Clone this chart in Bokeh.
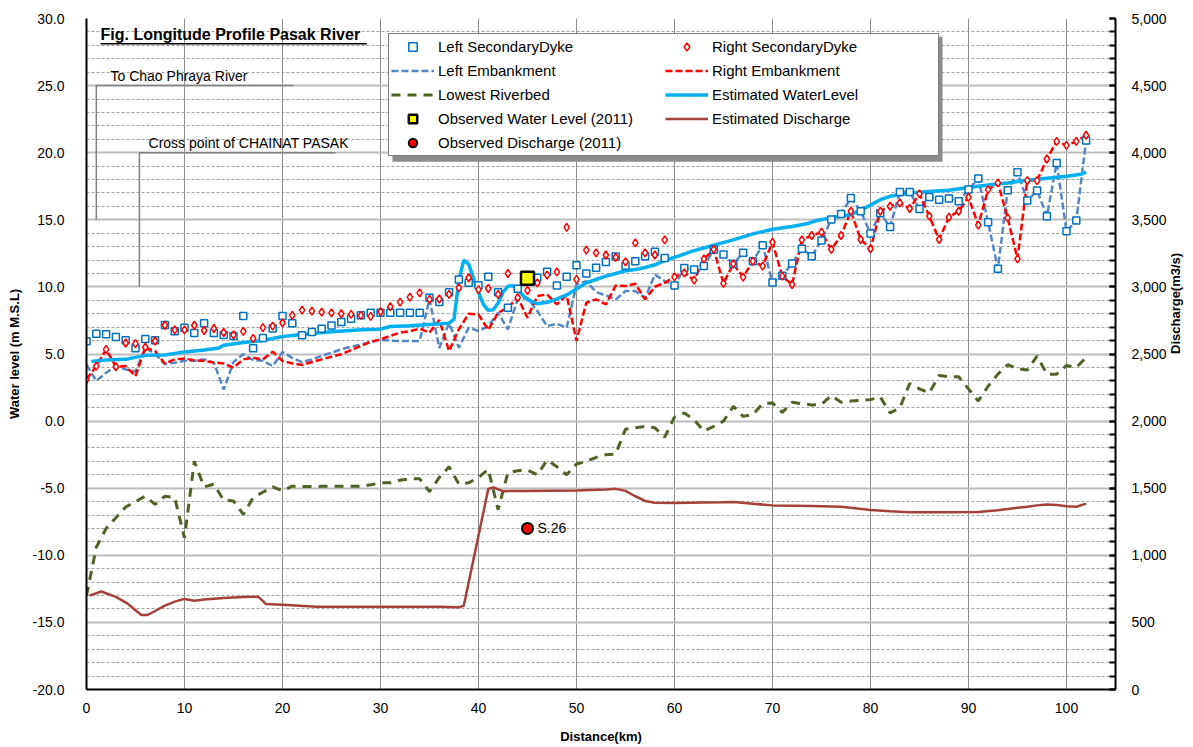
import math
from bokeh.plotting import figure
from bokeh.models import (Range1d, LinearAxis, SingleIntervalTicker, NumeralTickFormatter,
                          Legend, LegendItem, Label, BoxAnnotation)
from bokeh.embed import file_html
from bokeh.resources import INLINE

FONT = "Liberation Sans"

# ---------------- data ----------------
KM = list(range(103))

LEFT_DYKE = [5.95, 6.5, 6.47, 6.26, 6.02, 5.42, 6.12, 6.02, 7.16, 6.7,
             6.96, 6.56, 7.3, 6.56, 6.41, 6.34, 7.83, 5.42, 6.2, 6.9,
             7.83, 7.3, 6.39, 6.64, 6.88, 7.13, 7.38, 7.63, 7.88, 8.07,
             8.07, 8.07, 8.07, 8.07, 8.07, 9.19, 8.87, 9.61, 10.56, 10.3,
             10.13, 10.75, 9.61, 8.45, 9.86, 10.6, 10.68, 11.12, 10.11, 10.75,
             11.62, 11.0, 11.42, 11.86, 12.26, 11.58, 11.92, 12.29, 12.61, 12.16,
             10.1, 11.4, 11.3, 11.55, 12.77, 12.42, 11.7, 12.54, 11.92, 13.1,
             10.33, 10.83, 11.75, 12.85, 12.29, 13.46, 15.02, 15.44, 16.63, 15.64,
             13.98, 15.49, 14.47, 17.08, 17.08, 15.81, 16.7, 16.5, 16.58, 16.38,
             17.25, 18.07, 14.82, 11.35, 17.2, 18.54, 16.43, 17.18, 15.27, 19.24,
             14.15, 14.95, 20.9]

LEFT_EMB = [4.2, 3.0, 3.6, 4.1, 3.85, 3.7, 5.45, 5.0, 4.25, 4.35,
            4.5, 4.5, 4.6, 4.35, 2.35, 4.4, 5.0, 4.55, 4.5, 4.1,
            5.15, 4.7, 4.4, 4.6, 4.85, 5.1, 5.35, 5.55, 5.7, 5.9,
            6.05, 6.0, 5.97, 5.97, 5.97, 9.1, 5.45, 7.3, 5.47, 6.96,
            6.71, 7.08, 8.07, 6.84, 9.07, 9.19, 8.2, 7.08, 7.25, 6.96,
            10.19, 10.43, 9.61, 9.37, 9.07, 9.69, 9.69, 9.19, 10.93, 10.43,
            10.1, 11.4, 11.3, 11.55, 12.77, 12.42, 11.7, 12.54, 11.92, 13.1,
            10.33, 10.83, 11.75, 12.85, 12.29, 13.46, 15.02, 15.44, 16.63, 15.64,
            13.98, 15.49, 14.47, 17.08, 17.08, 15.81, 16.7, 16.5, 16.58, 16.38,
            17.25, 18.07, 14.82, 11.35, 17.2, 18.54, 16.43, 17.18, 15.27, 19.24,
            14.15, 14.95, 20.9]

RIGHT_DYKE = [3.1, 4.1, 5.35, 4.05, 5.82, 5.77, 5.5, 5.97, 7.14, 6.8,
              6.8, 7.14, 6.75, 6.9, 6.6, 6.42, 6.69, 6.17, 6.96, 7.08,
              7.33, 7.88, 8.27, 8.2, 8.12, 8.07, 8.0, 7.95, 7.88, 7.8,
              8.15, 8.52, 8.87, 9.24, 9.56, 9.07, 9.1, 9.44, 9.93, 10.68,
              9.8, 9.88, 9.44, 11.0, 9.2, 9.74, 10.3, 10.88, 11.12, 14.43,
              10.56, 12.74, 12.54, 12.38, 12.21, 11.87, 13.28, 12.54, 12.38, 13.5,
              10.75, 11.05, 10.5, 12.09, 12.79, 10.26, 11.72, 10.73, 11.92, 11.55,
              13.33, 10.8, 10.18, 13.5, 13.83, 14.08, 12.79, 13.83, 15.64, 13.53,
              12.84, 15.64, 16.01, 16.26, 15.84, 16.93, 15.27, 13.53, 15.19, 15.64,
              16.68, 14.6, 17.25, 17.75, 15.14, 12.09, 17.92, 17.92, 19.53, 20.85,
              20.55, 20.85, 21.3]

RIGHT_EMB = [3.1, 4.1, 5.35, 4.05, 4.1, 3.35, 5.47, 5.22, 4.28, 4.6,
             4.66, 4.53, 4.48, 4.36, 4.3, 3.98, 4.6, 4.72, 4.6, 5.17,
             4.48, 4.3, 4.18, 4.4, 4.6, 4.8, 4.98, 5.3, 5.6, 5.9,
             6.1, 6.35, 6.59, 6.7, 6.9, 6.59, 7.53, 5.22, 6.84, 8.0,
             7.95, 6.79, 8.07, 8.45, 9.2, 7.7, 9.32, 9.44, 8.7, 9.37,
             5.97, 8.82, 9.07, 8.7, 10.1, 10.06, 10.24, 9.07, 10.01, 10.3,
             10.75, 11.05, 10.5, 12.09, 12.79, 10.26, 11.72, 10.73, 11.92, 11.55,
             13.33, 10.8, 10.18, 13.5, 13.83, 14.08, 12.79, 13.83, 15.64, 13.53,
             12.84, 15.64, 16.01, 16.26, 15.84, 16.93, 15.27, 13.53, 15.19, 15.64,
             16.68, 14.6, 17.25, 17.75, 15.14, 12.09, 17.92, 17.92, 19.53, 20.85,
             20.55, 20.85, 21.3]

BED = [-13.0, -9.4, -8.0, -7.2, -6.4, -6.0, -5.6, -6.2, -5.6, -5.7,
       -8.7, -3.0, -4.9, -4.7, -5.9, -5.95, -6.95, -5.7, -5.3, -4.9,
       -5.2, -4.85, -4.88, -4.88, -4.86, -4.86, -4.85, -4.85, -4.85, -4.75,
       -4.6, -4.6, -4.4, -4.3, -4.3, -5.25, -4.2, -3.4, -4.7, -4.6,
       -4.2, -3.6, -6.6, -3.85, -3.7, -3.65, -4.0, -2.9, -3.4, -4.0,
       -3.2, -3.0, -2.7, -2.5, -2.45, -0.6, -0.5, -0.4, -0.5, -1.2,
       0.3, 0.6, 0.1, -0.75, -0.4, 0.0, 1.1, 0.35, 0.5, 1.3,
       1.35, 0.65, 1.4, 1.3, 1.2, 1.25, 1.9, 1.4, 1.5, 1.55,
       1.6, 1.8, 0.6, 1.0, 2.8, 2.4, 2.1, 3.4, 3.3, 3.3,
       2.4, 1.5, 2.6, 3.5, 4.2, 3.9, 3.8, 4.85, 3.5, 3.5,
       4.15, 4.0, 4.75]

WL_KM = [0.5, 2, 4, 5, 6, 8, 10, 12, 13.5, 14, 16, 18, 20, 22, 25, 28, 30, 31, 33, 35,
         37, 37.5, 38, 38.5, 39, 39.5, 40, 40.5, 41, 41.5, 42, 42.5, 43, 43.5, 44, 44.5,
         45, 46, 47, 48, 49, 50, 51, 52, 53, 54, 55, 56, 57, 58, 59, 60, 62, 64, 66, 68,
         70, 72, 73.5, 74.5, 76, 78, 79, 80, 81, 82, 84, 86, 88, 90, 92, 94, 96, 98, 100,
         101.5, 102]
WL = [4.45, 4.55, 4.6, 4.75, 4.9, 4.92, 5.15, 5.3, 5.45, 5.65, 5.85, 6.0, 6.3, 6.45,
      6.65, 6.8, 6.85, 7.05, 7.1, 7.2, 7.3, 7.6, 10.5, 12.0, 11.7, 10.6, 9.6, 8.7,
      8.25, 8.3, 8.8, 9.6, 10.05, 10.1, 9.8, 9.4, 9.05, 8.75, 8.85, 9.1, 9.4, 9.85,
      10.3, 10.55, 10.8, 11.0, 11.2, 11.3, 11.45, 11.65, 11.95, 12.2, 12.7, 13.1,
      13.5, 13.95, 14.3, 14.5, 14.7, 14.95, 15.15, 15.4, 15.7, 16.1, 16.5, 16.75,
      17.0, 17.1, 17.2, 17.4, 17.6, 17.75, 17.95, 18.1, 18.25, 18.4, 18.55]

Q_KM = [0.3, 1.5, 3, 4.2, 5, 5.6, 6.2, 7, 8, 9, 10, 11, 12, 14, 16, 17.5, 18, 18.3, 20,
        23.5, 28, 32, 36, 38, 38.5, 41, 41.5, 42.5, 45, 50, 53, 54, 55, 56, 57, 58, 60,
        63, 65, 66, 68, 70, 72, 74, 77, 78, 80, 82, 84, 88, 91, 93, 95, 96, 97, 98, 99,
        100, 101, 102]
Q = [700, 730, 690, 640, 590, 555, 555, 585, 625, 655, 675, 662, 670, 682, 690, 692,
     660, 637, 632, 617, 617, 617, 617, 612, 625, 1495, 1505, 1478, 1480, 1482, 1490,
     1495, 1480, 1440, 1405, 1392, 1390, 1393, 1395, 1398, 1385, 1372, 1370, 1368,
     1362, 1355, 1338, 1328, 1320, 1320, 1322, 1335, 1355, 1362, 1372, 1378, 1375,
     1365, 1362, 1385]

OBS_WL_KM = [45.0]
OBS_WL = [10.65]
OBS_Q_KM = [45.0]
OBS_Q = [1200]
OBS_Q_NAME = "S.26"

TITLE = "Fig. Longitude Profile Pasak River"
NOTE1 = "To Chao Phraya River"
NOTE2 = "Cross point of CHAINAT PASAK"

# ---------------- figure ----------------
p = figure(width=1193, height=747, x_range=Range1d(0, 105), y_range=Range1d(-20, 30),
           output_backend="svg", toolbar_location=None,
           min_border_left=86, min_border_right=78, min_border_top=18, min_border_bottom=58)
p.extra_y_ranges = {"q": Range1d(0, 5000)}
p.outline_line_color = None
p.background_fill_color = "white"

xt = SingleIntervalTicker(interval=10, num_minor_ticks=0)
yt = SingleIntervalTicker(interval=5, num_minor_ticks=5)
p.xaxis.ticker = xt
p.yaxis.ticker = yt
p.xgrid.ticker = xt
p.ygrid.ticker = yt

p.xgrid.grid_line_color = "#8C8C8C"
p.xgrid.grid_line_width = 1
p.ygrid.grid_line_color = "#BDBDBD"
p.ygrid.grid_line_width = 2
p.ygrid.minor_grid_line_color = "#A0A0A0"
p.ygrid.minor_grid_line_dash = "3 2"
p.ygrid.minor_grid_line_width = 1

p.yaxis.formatter = NumeralTickFormatter(format="0.0")
for ax in (p.xaxis[0], p.yaxis[0]):
    ax.axis_line_color = "black"
    ax.axis_line_width = 2
    ax.major_tick_in = 0
    ax.major_tick_out = 0
    ax.minor_tick_line_color = None
    ax.major_label_text_font = FONT
    ax.major_label_text_font_size = "14px"
    ax.major_label_text_color = "black"
    ax.axis_label_text_font = FONT
    ax.axis_label_text_font_style = "bold"
    ax.axis_label_text_font_size = "13px"
    ax.axis_label_text_color = "black"

p.xaxis.axis_label = "Distance(km)"
p.xaxis.major_label_standoff = 13
p.xaxis.axis_label_standoff = 13
p.yaxis.axis_label = "Water level (m M.S.L)"
p.yaxis.major_label_standoff = 18
p.yaxis.axis_label_standoff = 8

ar = LinearAxis(y_range_name="q", ticker=SingleIntervalTicker(interval=500, num_minor_ticks=5),
                formatter=NumeralTickFormatter(format="0,0"), axis_label="Discharge(m3/s)")
ar.axis_line_color = "black"
ar.axis_line_width = 2
ar.major_tick_in = 6
ar.major_tick_out = 0
ar.minor_tick_in = 6
ar.minor_tick_out = 0
ar.major_tick_line_width = 2
ar.minor_tick_line_width = 2
ar.major_label_text_font = FONT
ar.major_label_text_font_size = "14px"
ar.major_label_text_color = "black"
ar.major_label_standoff = 16
ar.axis_label_text_font = FONT
ar.axis_label_text_font_style = "bold"
ar.axis_label_text_font_size = "13px"
ar.axis_label_text_color = "black"
ar.axis_label_standoff = 6
if "axis_label_orientation" in ar.properties():
    ar.axis_label_orientation = math.pi / 2
p.add_layout(ar, "right")

# annotation brackets
p.line([1.0, 1.0, 21.1], [15, 25, 25], line_color="#808080", line_width=1.5)
p.line([5.4, 5.4, 25.4], [10, 20, 20], line_color="#808080", line_width=1.5)

# series
r_bed = p.line(KM, BED, line_color="#4F6228", line_width=3, line_dash="9 7")
r_q = p.line(Q_KM, Q, y_range_name="q", line_color="#A5403D", line_width=2.5)
r_le = p.line(KM, LEFT_EMB, line_color="#5585C5", line_width=2.5, line_dash="7 3")
r_re = p.line(KM, RIGHT_EMB, line_color="#FF0000", line_width=2.5, line_dash="7 3")
r_wl = p.line(WL_KM, WL, line_color="#00B0F0", line_width=3.5)
r_ld = p.scatter(KM, LEFT_DYKE, marker="square", size=7, line_color="#0070C0",
                 line_width=1.5, fill_color="white")
r_rd = p.scatter(KM, RIGHT_DYKE, marker="diamond", size=8, line_color="#FF0000",
                 line_width=1.5, fill_color="white")
r_owl = p.scatter(OBS_WL_KM, OBS_WL, marker="square", size=13, line_color="black",
                  line_width=2.5, fill_color="#FFFF00")
r_oq = p.scatter(OBS_Q_KM, OBS_Q, y_range_name="q", marker="circle", size=11,
                 line_color="black", line_width=2, fill_color="#FF0000")

p.add_layout(Label(x=OBS_Q_KM[0], y=OBS_Q[0], y_range_name="q", text=OBS_Q_NAME,
                   x_offset=10, text_baseline="middle", text_font=FONT,
                   text_font_size="14px", text_color="black"))

p.add_layout(Label(x=1.43, y=28.8, text=TITLE, text_font=FONT, text_font_style="bold",
                   text_font_size="16px", text_baseline="middle", text_color="black"))
p.line([1.43, 28.6], [28.12, 28.12], line_color="black", line_width=1.5)
p.add_layout(Label(x=2.45, y=25.73, text=NOTE1, text_font=FONT, text_font_size="14px",
                   text_baseline="middle", text_color="black"))
p.add_layout(Label(x=6.33, y=20.74, text=NOTE2, text_font=FONT, text_font_size="14px",
                   text_baseline="middle", text_color="black"))

# legend shadow
p.add_layout(BoxAnnotation(left=31.22, right=87.35, top=28.64, bottom=19.32,
                           fill_color="#8C8C8C", fill_alpha=1.0, line_color=None))

items = [
    LegendItem(label="Left SecondaryDyke", renderers=[r_ld]),
    LegendItem(label="Left Embankment", renderers=[r_le]),
    LegendItem(label="Lowest Riverbed", renderers=[r_bed]),
    LegendItem(label="Observed Water Level (2011)", renderers=[r_owl]),
    LegendItem(label="Observed Discharge (2011)", renderers=[r_oq]),
    LegendItem(label="Right SecondaryDyke", renderers=[r_rd]),
    LegendItem(label="Right Embankment", renderers=[r_re]),
    LegendItem(label="Estimated WaterLevel", renderers=[r_wl]),
    LegendItem(label="Estimated Discharge", renderers=[r_q]),
]
leg = Legend(items=items, location=(302, 533), orientation="vertical", ncols=2,
             glyph_width=43, glyph_height=21, label_height=21, label_width=224,
             label_standoff=4, spacing=3, padding=2, margin=0,
             label_text_font=FONT, label_text_font_size="15px", label_text_color="black",
             border_line_color="black", border_line_width=1.5,
             background_fill_color="white", background_fill_alpha=1.0)
p.add_layout(leg)

open("out.html", "w").write(file_html(p, INLINE))
